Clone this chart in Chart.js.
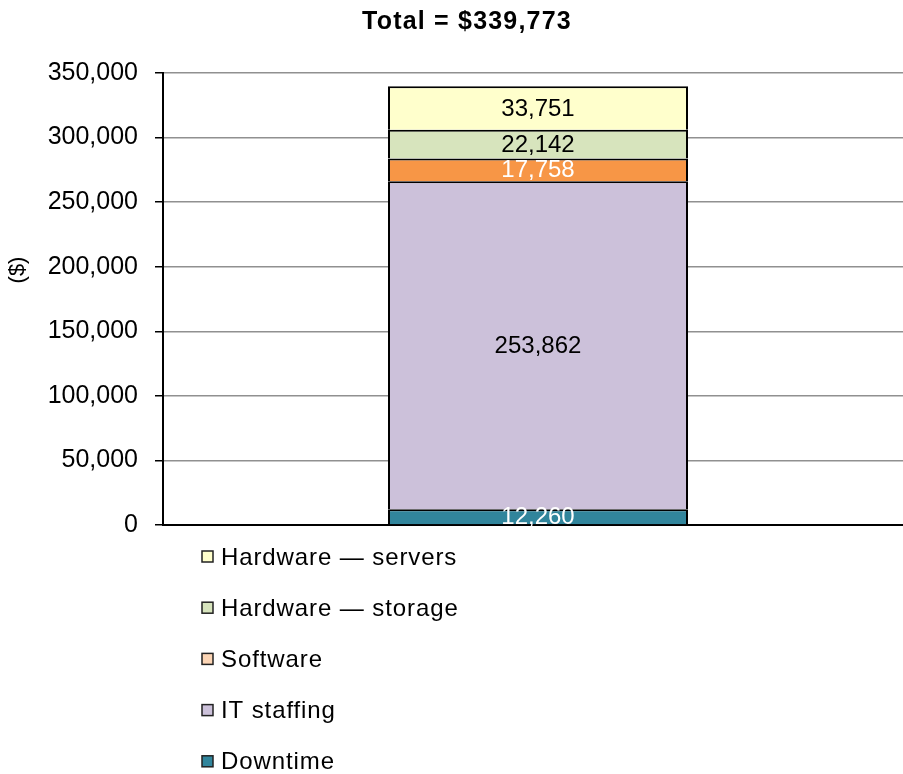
<!DOCTYPE html>
<html>
<head>
<meta charset="utf-8">
<script src="https://cdn.jsdelivr.net/npm/chart.js@4/dist/chart.umd.min.js"></script>
<style>
html,body{margin:0;padding:0;background:#fff;}
#wrap{width:903px;height:774px;}
</style>
</head>
<body>
<div id="wrap"><canvas id="c" width="903" height="774"></canvas></div>
<script>
const categories = ['Total'];
const seriesNames = ['Downtime', 'IT staffing', 'Software', 'Hardware \u2014 storage', 'Hardware \u2014 servers'];
const downtime = [12260];
const itStaffing = [253862];
const software = [17758];
const hwStorage = [22142];
const hwServers = [33751];
const yTicks = [0, 50000, 100000, 150000, 200000, 250000, 300000, 350000];
const titleText = 'Total = $339,773';
const yAxisLabel = '($)';

const barColors = ['#31859C', '#CCC1DA', '#F79646', '#D7E4BD', '#FFFFCC'];
const legendColors = ['#31859C', '#CCC1DA', '#FCD5B5', '#D7E4BD', '#FFFFCC'];
const labelColors = ['#FFFFFF', '#000000', '#FFFFFF', '#000000', '#000000'];
const seriesValues = [downtime, itStaffing, software, hwStorage, hwServers];

const FONT = '"Liberation Sans", Arial, sans-serif';

const shiftPlugin = {
  id: 'shiftX',
  afterLayout(chart) {
    const x = chart.scales.x;
    x.right += 10;
    x.width += 10;
    x.configure();
  }
};

const labelPlugin = {
  id: 'segLabels',
  afterDatasetsDraw(chart) {
    const ctx = chart.ctx;
    ctx.save();
    ctx.font = '24px ' + FONT;
    ctx.textAlign = 'center';
    ctx.textBaseline = 'middle';
    chart.data.datasets.forEach((ds, i) => {
      const meta = chart.getDatasetMeta(i);
      meta.data.forEach((el, j) => {
        const p = el.getProps(['x', 'y', 'base'], true);
        ctx.fillStyle = labelColors[i];
        ctx.fillText(ds.data[j].toLocaleString('en-US'), p.x, (p.y + p.base) / 2 + 1);
      });
    });
    ctx.restore();
  }
};

const extrasPlugin = {
  id: 'extras',
  afterDraw(chart) {
    const ctx = chart.ctx;
    ctx.save();
    // title
    ctx.font = 'bold 25px ' + FONT;
    ctx.letterSpacing = '1.2px';
    ctx.fillStyle = '#000';
    ctx.textAlign = 'center';
    ctx.textBaseline = 'middle';
    ctx.fillText(titleText, 467, 22);
    // y-axis label
    ctx.save();
    ctx.letterSpacing = '0px';
    ctx.font = '22px ' + FONT;
    ctx.translate(18, 270);
    ctx.rotate(-Math.PI / 2);
    ctx.fillText(yAxisLabel, 0, 0);
    ctx.restore();
    // legend (vertical, reversed)
    ctx.font = '24px ' + FONT;
    ctx.letterSpacing = '0.9px';
    ctx.textAlign = 'left';
    const n = chart.data.datasets.length;
    for (let k = 0; k < n; k++) {
      const i = n - 1 - k;
      const cy = 557 + k * 51.2;
      ctx.fillStyle = legendColors[i];
      ctx.fillRect(202, cy - 6, 11, 11);
      ctx.strokeStyle = '#222';
      ctx.lineWidth = 1.5;
      ctx.strokeRect(202, cy - 6, 11, 11);
      ctx.fillStyle = '#000';
      ctx.fillText(chart.data.datasets[i].label, 221, cy + 1);
    }
    ctx.restore();
  }
};

new Chart(document.getElementById('c'), {
  type: 'bar',
  data: {
    labels: categories,
    datasets: seriesNames.map((name, i) => ({
      label: name,
      data: seriesValues[i],
      backgroundColor: barColors[i],
      borderColor: '#000',
      borderWidth: 2,
      barPercentage: 0.4,
      categoryPercentage: 1.0
    }))
  },
  options: {
    responsive: false,
    animation: false,
    layout: { padding: { top: 73, bottom: 249, left: 0, right: 0 } },
    plugins: { legend: { display: false }, title: { display: false }, tooltip: { enabled: false } },
    scales: {
      x: {
        stacked: true,
        ticks: { display: false },
        grid: { display: false },
        border: { display: true, color: '#000', width: 2 },
        afterFit(s) { s.height = 0; }
      },
      y: {
        stacked: true,
        min: 0,
        max: 350000,
        afterBuildTicks(s) { s.ticks = yTicks.map(v => ({ value: v })); },
        ticks: {
          font: { family: FONT, size: 25 },
          color: '#000',
          padding: 17,
          callback: v => Number(v).toLocaleString('en-US')
        },
        grid: { color: '#909090', lineWidth: 1.5, tickColor: '#000', tickLength: 8, drawTicks: true },
        border: { display: true, color: '#000', width: 2 },
        title: { display: false },
        afterFit(s) { s.width = 163; }
      }
    }
  },
  plugins: [shiftPlugin, labelPlugin, extrasPlugin]
});
</script>
</body>
</html>
